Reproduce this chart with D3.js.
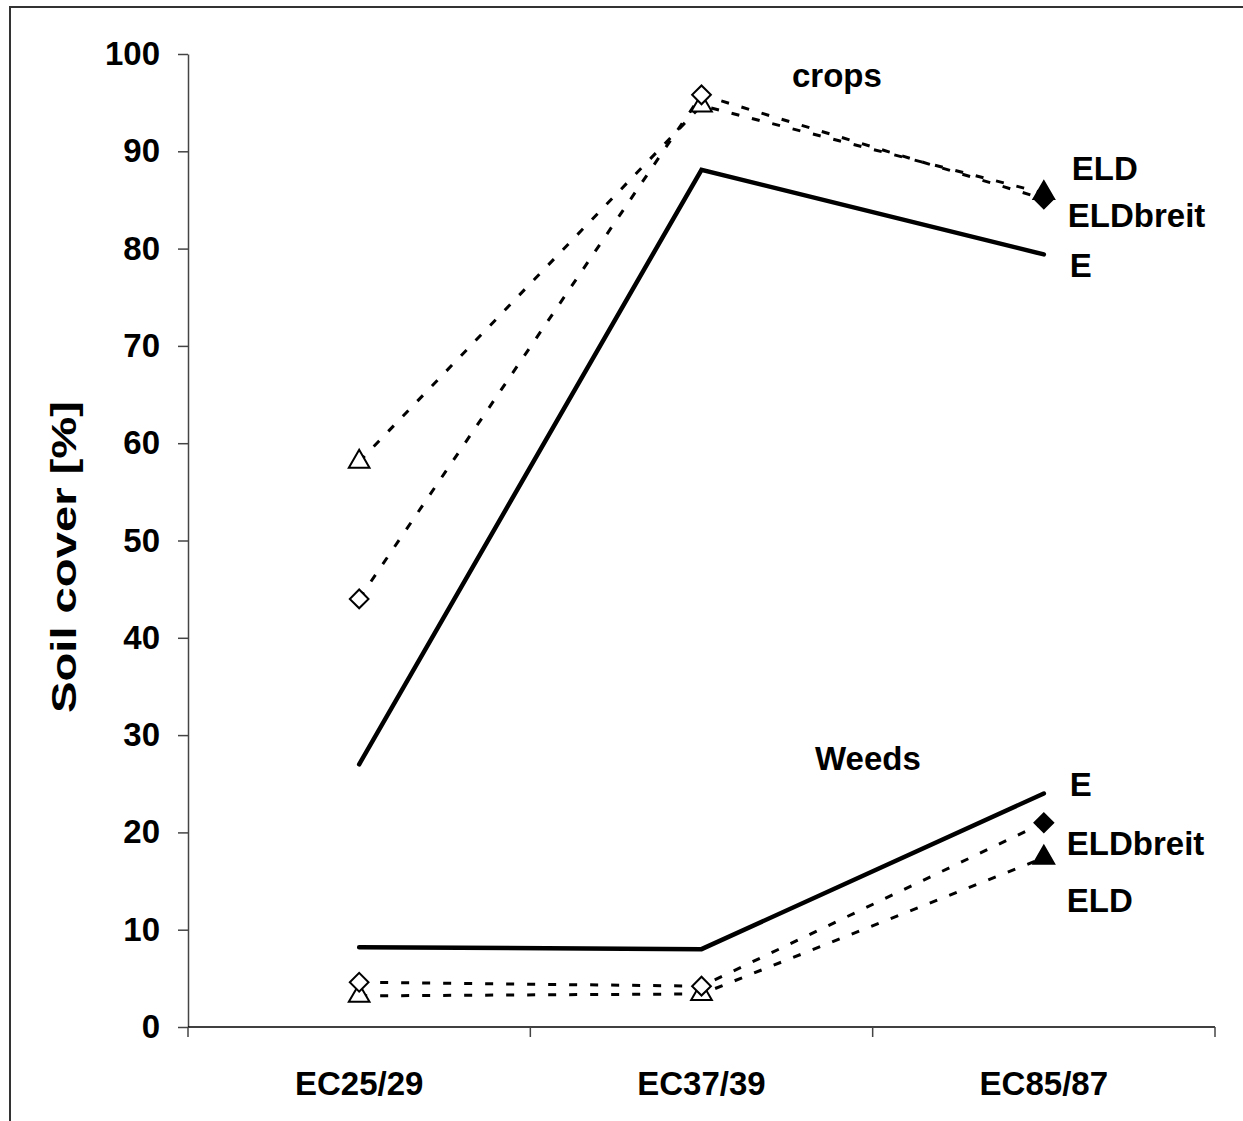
<!DOCTYPE html>
<html>
<head>
<meta charset="utf-8">
<script src="https://cdn.jsdelivr.net/npm/d3@7"></script>
<style>
  html, body { margin: 0; padding: 0; background: #fff; }
  svg { display: block; }
</style>
</head>
<body>
<div id="chart"></div>
<script>
var stages = ['EC25/29', 'EC37/39', 'EC85/87'];
var yTicks = [0, 10, 20, 30, 40, 50, 60, 70, 80, 90, 100];

// crops
var cropsE        = [27.0, 88.1, 79.4];
var cropsELD      = [58.1, 94.7, 85.7];
var cropsELDbreit = [44.0, 95.8, 85.1];

// weeds
var weedsE        = [8.2, 8.0, 24.0];
var weedsELD      = [3.2, 3.4, 17.4];
var weedsELDbreit = [4.6, 4.2, 21.0];

var W = 1243, H = 1121;
var FONT = 'Liberation Sans, Arial, sans-serif';

var svg = d3.select('#chart').append('svg')
  .attr('width', W)
  .attr('height', H);

// outer frame (only top and left edges are visible)
svg.append('path')
  .attr('d', 'M10,' + H + ' V7 H' + W)
  .attr('fill', 'none')
  .attr('stroke', '#333')
  .attr('stroke-width', 2);

var x = d3.scaleBand().domain(stages).range([188, 1215]).paddingInner(0).paddingOuter(0);
var y = d3.scaleLinear().domain([0, 100]).range([1027, 54]);
function cx(i) { return x(stages[i]) + x.bandwidth() / 2; }

// ── Axes ─────────────────────────────────────────────
var yAxis = svg.append('g')
  .attr('transform', 'translate(188,0)')
  .call(d3.axisLeft(y).tickValues(yTicks).tickSize(10).tickPadding(18).tickSizeOuter(0));
yAxis.select('.domain').attr('stroke', '#444').attr('stroke-width', 1.5);
yAxis.selectAll('.tick line').attr('stroke', '#444').attr('stroke-width', 1.5);
yAxis.selectAll('.tick text')
  .attr('font-family', FONT).attr('font-size', '33px').attr('font-weight', 'bold')
  .attr('fill', '#000');

var xAxisG = svg.append('g').attr('transform', 'translate(0,1027)');
xAxisG.append('line')
  .attr('x1', 188).attr('x2', 1215).attr('y1', 0).attr('y2', 0)
  .attr('stroke', '#000').attr('stroke-width', 1.5);
var bounds = stages.map(function(s) { return x(s); }).concat([x(stages[2]) + x.bandwidth()]);
xAxisG.selectAll('.xtick').data(bounds).enter().append('line')
  .attr('x1', function(d) { return d; }).attr('x2', function(d) { return d; })
  .attr('y1', 0).attr('y2', 10)
  .attr('stroke', '#444').attr('stroke-width', 1.5);
xAxisG.selectAll('.xlab').data(stages).enter().append('text')
  .attr('x', function(d, i) { return cx(i); })
  .attr('y', 68)
  .attr('text-anchor', 'middle')
  .attr('font-family', FONT).attr('font-size', '33px').attr('font-weight', 'bold')
  .text(function(d) { return d; });

// y title
svg.append('text')
  .attr('transform', 'translate(76,557) rotate(-90)')
  .attr('text-anchor', 'middle')
  .attr('font-family', FONT).attr('font-size', '35px').attr('font-weight', 'bold')
  .attr('textLength', 312)
  .attr('lengthAdjust', 'spacingAndGlyphs')
  .text('Soil cover [%]');

// ── Lines ────────────────────────────────────────────
var line = d3.line()
  .x(function(d, i) { return cx(i); })
  .y(function(d) { return y(d); });

var series = [
  { v: cropsE,        dash: null, marker: null },
  { v: weedsE,        dash: null, marker: null },
  { v: cropsELD,      dash: '8 13', marker: 'tri' },
  { v: weedsELD,      dash: '8 13', marker: 'tri' },
  { v: cropsELDbreit, dash: '8 13', marker: 'dia' },
  { v: weedsELDbreit, dash: '8 13', marker: 'dia' }
];

series.forEach(function(s) {
  svg.append('path')
    .attr('d', line(s.v))
    .attr('fill', 'none')
    .attr('stroke', '#000')
    .attr('stroke-width', s.dash ? 3 : 4.5)
    .attr('stroke-dasharray', s.dash)
    .attr('stroke-linecap', s.dash ? 'butt' : 'round')
    .attr('stroke-linejoin', 'miter');
});

var triSym = d3.symbol().type(d3.symbolTriangle).size(185);
var diaSym = d3.symbol().type(d3.symbolSquare).size(175);

// triangles below diamonds
['tri', 'dia'].forEach(function(kind) {
  series.filter(function(s) { return s.marker === kind; }).forEach(function(s) {
    s.v.forEach(function(d, i) {
      var filled = i === 2;
      svg.append('path')
        .attr('d', kind === 'tri' ? triSym() : diaSym())
        .attr('transform', 'translate(' + cx(i) + ',' + y(d) + ')' + (kind === 'dia' ? ' rotate(45)' : ''))
        .attr('fill', filled ? '#000' : '#fff')
        .attr('stroke', '#000')
        .attr('stroke-width', 2);
    });
  });
});

// ── Labels ───────────────────────────────────────────
function label(txt, px, py) {
  svg.append('text')
    .attr('x', px).attr('y', py)
    .attr('font-family', FONT).attr('font-size', '33px').attr('font-weight', 'bold')
    .text(txt);
}
var lx = cx(2) + 26;
label('crops', 792, y(96.6));
label('Weeds', 815, y(26.4));
label('ELD', lx + 2, y(87.1));
label('ELDbreit', lx - 2, y(82.2));
label('E', lx, y(77.1));
label('E', lx, y(23.7));
label('ELDbreit', lx - 3, y(17.7));
label('ELD', lx - 3, y(11.8));
</script>
</body>
</html>
